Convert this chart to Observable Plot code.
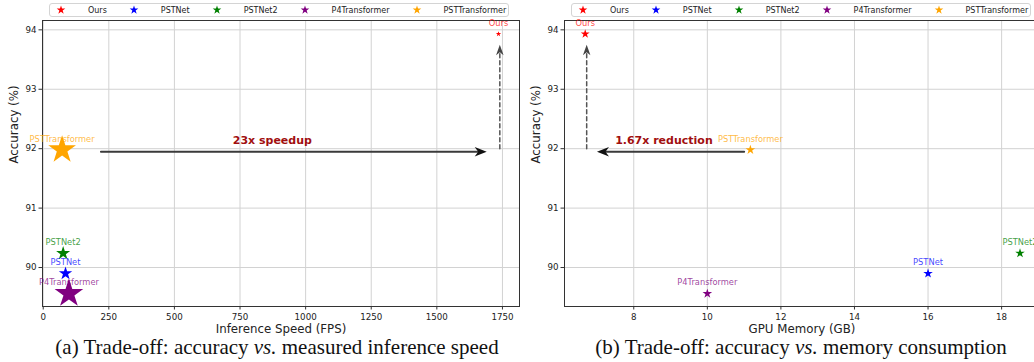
<!DOCTYPE html>
<html><head><meta charset="utf-8">
<script src="https://cdn.jsdelivr.net/npm/d3@7"></script>
<script src="https://cdn.jsdelivr.net/npm/@observablehq/plot@0.6"></script>
<style>
html,body{margin:0;padding:0;background:#fff;}
body{width:1034px;height:362px;overflow:hidden;position:relative;font-family:"DejaVu Sans",sans-serif;}
.panel{position:absolute;top:0;}
.legend{position:absolute;top:3px;height:14px;box-sizing:border-box;border:1px solid #d4d4d4;border-radius:3px;background:#fff;display:flex;align-items:center;padding:0 2px 0 6px;font-family:"DejaVu Sans",sans-serif;font-size:8px;color:#222;white-space:nowrap;}
.legend .item{display:flex;align-items:center;}
.legend .item + .item{margin-left:22px;}
.legend svg{width:10px;height:10px;margin-right:22px;overflow:visible;flex:none;}
.caption{position:absolute;top:335px;font-family:"Liberation Serif","Times New Roman",serif;font-size:21px;line-height:24px;color:#111;white-space:nowrap;transform:translateX(-50%);}
</style></head><body>
<script>
// ---- data ----
const models = ["Ours", "PSTNet", "PSTNet2", "P4Transformer", "PSTTransformer"];
const colors = ["red", "blue", "green", "purple", "orange"];
const accuracy = [93.93, 89.90, 90.24, 89.56, 91.98];
const fps = [1735, 85, 76, 98, 72];
const memoryGB = [6.68, 16.0, 18.5, 10.0, 11.17];
const fpsTicks = [0, 250, 500, 750, 1000, 1250, 1500, 1750];
const memTicks = [8, 10, 12, 14, 16, 18];
const accTicks = [90, 91, 92, 93, 94];
const speedupText = "23x speedup";
const reductionText = "1.67x reduction";
// annotation anchors (data units)
const speedArrow = {x1: 220, x2: 1690, y: 91.95};
const speedDash = {x: 1740, y1: 92.0, y2: 93.75};
const speedLabel = {x: 873, y: 92.14};
const memArrow = {x1: 11.0, x2: 7.0, y: 91.95};
const memDash = {x: 6.72, y1: 92.0, y2: 93.75};
const memLabel = {x: 8.82, y: 92.14};

// ---- styles ----
const leftRadius = {"Ours": 1.7, "PSTNet": 4.2, "PSTNet2": 4.4, "P4Transformer": 9.0, "PSTTransformer": 8.7};
const rightRadius = {"Ours": 2.8, "PSTNet": 3.0, "PSTNet2": 3.0, "P4Transformer": 3.0, "PSTTransformer": 3.0};
const font = "DejaVu Sans";

function headSymbol(L, W, notch) {
  return {draw(ctx) {
    ctx.moveTo(0, 0);
    ctx.lineTo(W / 2, L);
    ctx.lineTo(0, notch);
    ctx.lineTo(-W / 2, L);
    ctx.closePath();
  }};
}
const bigHead = headSymbol(12, 9.5, 8.5);
const dashHead = headSymbol(10.5, 7.5, 7.5);

function panel({xs, xTicks, xDomain, xLabel, radius, width, marginLeft, marginRight, arrow, dash, label, labelText, arrowRotate}) {
  const data = models.map((m, i) => ({model: m, color: colors[i], x: xs[i], y: accuracy[i], r: radius[m]}));
  return Plot.plot({
    width, height: 340,
    marginLeft, marginRight, marginTop: 20, marginBottom: 34,
    style: {fontFamily: font, fontSize: "8.5px", color: "#222", background: "transparent", overflow: "visible"},
    x: {domain: xDomain},
    y: {domain: [89.344, 94.157]},
    r: {type: "identity"},
    color: {type: "identity"},
    marks: [
      Plot.gridX(xTicks, {stroke: "#d2d2d2", strokeOpacity: 1, strokeWidth: 1}),
      Plot.gridY(accTicks, {stroke: "#d2d2d2", strokeOpacity: 1, strokeWidth: 1}),
      Plot.frame({stroke: "#333", strokeWidth: 1}),
      Plot.axisX(xTicks, {tickSize: 3.5, tickPadding: 3.5, stroke: "#333", fill: "#222", fontSize: 8.7, label: null, tickFormat: d => String(d)}),
      Plot.axisY(accTicks, {tickSize: 3.5, tickPadding: 2.5, stroke: "#333", fill: "#222", fontSize: 8.7, label: null, tickFormat: d => String(d)}),
      Plot.text([xLabel], {frameAnchor: "bottom", dy: 26.5, fontSize: 11.8, fill: "#222"}),
      Plot.text(["Accuracy (%)"], {frameAnchor: "left", dx: -28, rotate: -90, fontSize: 11.8, fill: "#222"}),
      // dashed vertical arrow
      Plot.arrow([dash], {x1: "x", x2: "x", y1: "y1", y2: "y2", stroke: "#555", strokeWidth: 1.5, strokeDasharray: "4,3", headLength: 0, insetEnd: 6}),
      Plot.dot([dash], {x: "x", y: "y2", symbol: dashHead, r: 4, fill: "#444", rotate: 0}),
      // horizontal arrow
      Plot.arrow([arrow], {x1: "x1", x2: "x2", y1: "y", y2: "y", stroke: "#3a3a3a", strokeWidth: 2, headLength: 0, insetEnd: 8}),
      Plot.dot([arrow], {x: "x2", y: "y", symbol: bigHead, r: 4, fill: "#111", rotate: arrowRotate}),
      Plot.text([label], {x: "x", y: "y", text: () => labelText, fontSize: 11, fontWeight: "bold", fill: "#a10f0f"}),
      // points and labels
      Plot.dot(data, {x: "x", y: "y", r: "r", symbol: "star", fill: "color"}),
      Plot.text(data, {x: "x", y: "y", text: "model", fill: "color", fillOpacity: 0.75, dy: -11, fontSize: 8.3})
    ]
  });
}

function legend(left) {
  const div = document.createElement("div");
  div.className = "legend";
  div.style.left = left + "px";
  const starPath = d3.symbol(d3.symbolStar, 23)();
  models.forEach((m, i) => {
    const it = document.createElement("div");
    it.className = "item";
    it.innerHTML = `<svg viewBox="-5 -5 10 10"><path d="${starPath}" fill="${colors[i]}"/></svg><span>${m}</span>`;
    div.appendChild(it);
  });
  return div;
}

const leftPlot = panel({xs: fps, xTicks: fpsTicks, xDomain: [-2.7, 1815], xLabel: "Inference Speed (FPS)", radius: leftRadius,
  width: 522, marginLeft: 42, marginRight: 3, arrow: speedArrow, dash: speedDash, label: speedLabel, labelText: speedupText, arrowRotate: 90});
leftPlot.classList.add("panel"); leftPlot.style.left = "0px";
document.body.appendChild(leftPlot);

const rightPlot = panel({xs: memoryGB, xTicks: memTicks, xDomain: [6.117, 19.03], xLabel: "GPU Memory (GB)", radius: rightRadius,
  width: 525, marginLeft: 49, marginRight: 1, arrow: memArrow, dash: memDash, label: memLabel, labelText: reductionText, arrowRotate: -90});
rightPlot.classList.add("panel"); rightPlot.style.left = "515px";
document.body.appendChild(rightPlot);

document.body.appendChild(legend(49));
document.body.appendChild(legend(571));

const capA = document.createElement("div");
capA.className = "caption"; capA.style.left = "277px";
capA.innerHTML = "(a) Trade-off: accuracy <i>vs.</i> measured inference speed";
document.body.appendChild(capA);
const capB = document.createElement("div");
capB.className = "caption"; capB.style.left = "801px";
capB.innerHTML = "(b) Trade-off: accuracy <i>vs.</i> memory consumption";
document.body.appendChild(capB);
</script>
</body></html>
